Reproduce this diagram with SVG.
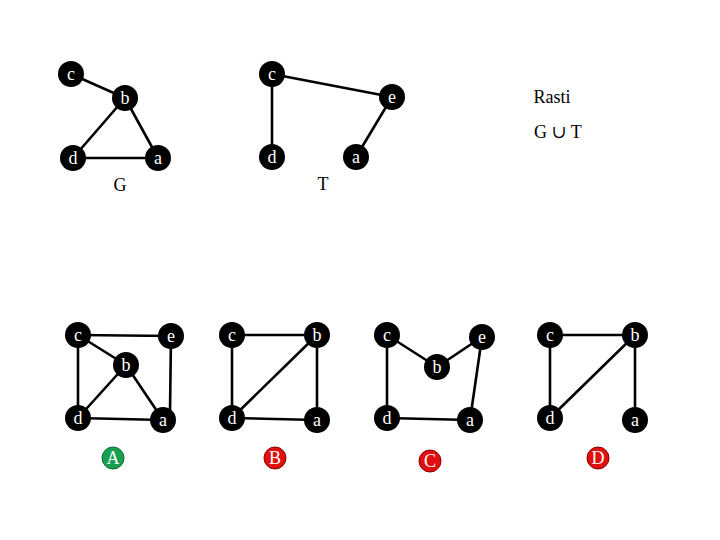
<svg xmlns="http://www.w3.org/2000/svg" width="720" height="540" viewBox="0 0 720 540">
<style>
.e{stroke:#000;stroke-width:2.6;fill:none}
.n circle{fill:#000}
.n text,.lbl text{font-family:"Liberation Serif","DejaVu Serif",serif;font-size:18px;fill:#fff;text-anchor:middle}
.cap{font-family:"Liberation Serif","DejaVu Serif",serif;font-size:18px;fill:#000;text-anchor:middle}
.g{fill:#17a050;stroke:#0d6b33;stroke-width:1}
.r{fill:#e01010;stroke:#8a0000;stroke-width:1}
</style>
<rect width="720" height="540" fill="#fff"/>
<g id="connectors">
<!-- G -->
<line class="e" x1="71" y1="74" x2="125" y2="98"/>
<line class="e" x1="125" y1="98" x2="73" y2="158"/>
<line class="e" x1="125" y1="98" x2="158" y2="158"/>
<line class="e" x1="73" y1="158" x2="158" y2="158"/>
<!-- T -->
<line class="e" x1="272" y1="74" x2="392" y2="97"/>
<line class="e" x1="272" y1="74" x2="272" y2="157"/>
<line class="e" x1="392" y1="97" x2="356" y2="157"/>
<!-- A -->
<line class="e" x1="78" y1="335" x2="171" y2="336"/>
<line class="e" x1="78" y1="335" x2="126" y2="365"/>
<line class="e" x1="78" y1="335" x2="78" y2="418"/>
<line class="e" x1="126" y1="365" x2="78" y2="418"/>
<line class="e" x1="126" y1="365" x2="163" y2="420"/>
<line class="e" x1="78" y1="418" x2="163" y2="420"/>
<line class="e" x1="171" y1="336" x2="170" y2="412"/>
<!-- B -->
<line class="e" x1="232" y1="335" x2="317" y2="335"/>
<line class="e" x1="232" y1="335" x2="232" y2="418"/>
<line class="e" x1="317" y1="335" x2="232" y2="418"/>
<line class="e" x1="317" y1="335" x2="317" y2="420"/>
<line class="e" x1="232" y1="418" x2="317" y2="420"/>
<!-- C -->
<line class="e" x1="387" y1="335" x2="437" y2="367"/>
<line class="e" x1="437" y1="367" x2="482" y2="337"/>
<line class="e" x1="387" y1="335" x2="387" y2="418"/>
<line class="e" x1="387" y1="418" x2="470" y2="420"/>
<line class="e" x1="482" y1="337" x2="470" y2="420"/>
<!-- D -->
<line class="e" x1="550" y1="335" x2="635" y2="335"/>
<line class="e" x1="550" y1="335" x2="550" y2="418"/>
<line class="e" x1="635" y1="335" x2="550" y2="418"/>
<line class="e" x1="635" y1="335" x2="635" y2="420"/>
</g>
<g id="G">
<g id="G-c" class="n"><circle cx="71" cy="74" r="13"/><text x="71" y="80">c</text></g>
<g id="G-b" class="n"><circle cx="125" cy="98" r="13"/><text x="125" y="104">b</text></g>
<g id="G-d" class="n"><circle cx="73" cy="158" r="13"/><text x="73" y="164">d</text></g>
<g id="G-a" class="n"><circle cx="158" cy="158" r="13"/><text x="158" y="164">a</text></g>
<text class="cap" x="120" y="191">G</text>
</g>
<g id="T">
<g id="T-c" class="n"><circle cx="272" cy="74" r="13"/><text x="272" y="80">c</text></g>
<g id="T-e" class="n"><circle cx="392" cy="97" r="13"/><text x="392" y="103">e</text></g>
<g id="T-d" class="n"><circle cx="272" cy="157" r="13"/><text x="272" y="163">d</text></g>
<g id="T-a" class="n"><circle cx="356" cy="157" r="13"/><text x="356" y="163">a</text></g>
<text class="cap" x="323" y="190">T</text>
</g>
<g id="legend">
<text class="cap" x="552" y="103">Rasti</text>
<text class="cap" x="558" y="138">G ∪ T</text>
</g>
<g id="A">
<g id="A-c" class="n"><circle cx="78" cy="335" r="13"/><text x="78" y="341">c</text></g>
<g id="A-e" class="n"><circle cx="171" cy="336" r="13"/><text x="171" y="342">e</text></g>
<g id="A-b" class="n"><circle cx="126" cy="365" r="13"/><text x="126" y="371">b</text></g>
<g id="A-d" class="n"><circle cx="78" cy="418" r="13"/><text x="78" y="424">d</text></g>
<g id="A-a" class="n"><circle cx="163" cy="420" r="13"/><text x="163" y="426">a</text></g>
<g id="A-label" class="lbl"><circle class="g" cx="113" cy="458" r="11"/><text x="113" y="464">A</text></g>
</g>
<g id="B">
<g id="B-c" class="n"><circle cx="232" cy="335" r="13"/><text x="232" y="341">c</text></g>
<g id="B-b" class="n"><circle cx="317" cy="335" r="13"/><text x="317" y="341">b</text></g>
<g id="B-d" class="n"><circle cx="232" cy="418" r="13"/><text x="232" y="424">d</text></g>
<g id="B-a" class="n"><circle cx="317" cy="420" r="13"/><text x="317" y="426">a</text></g>
<g id="B-label" class="lbl"><circle class="r" cx="275" cy="458" r="11"/><text x="275" y="464">B</text></g>
</g>
<g id="C">
<g id="C-c" class="n"><circle cx="387" cy="335" r="13"/><text x="387" y="341">c</text></g>
<g id="C-e" class="n"><circle cx="482" cy="337" r="13"/><text x="482" y="343">e</text></g>
<g id="C-b" class="n"><circle cx="437" cy="367" r="13"/><text x="437" y="373">b</text></g>
<g id="C-d" class="n"><circle cx="387" cy="418" r="13"/><text x="387" y="424">d</text></g>
<g id="C-a" class="n"><circle cx="470" cy="420" r="13"/><text x="470" y="426">a</text></g>
<g id="C-label" class="lbl"><circle class="r" cx="430" cy="461" r="11"/><text x="430" y="467">C</text></g>
</g>
<g id="D">
<g id="D-c" class="n"><circle cx="550" cy="335" r="13"/><text x="550" y="341">c</text></g>
<g id="D-b" class="n"><circle cx="635" cy="335" r="13"/><text x="635" y="341">b</text></g>
<g id="D-d" class="n"><circle cx="550" cy="418" r="13"/><text x="550" y="424">d</text></g>
<g id="D-a" class="n"><circle cx="635" cy="420" r="13"/><text x="635" y="426">a</text></g>
<g id="D-label" class="lbl"><circle class="r" cx="598" cy="458" r="11"/><text x="598" y="464">D</text></g>
</g>
</svg>
